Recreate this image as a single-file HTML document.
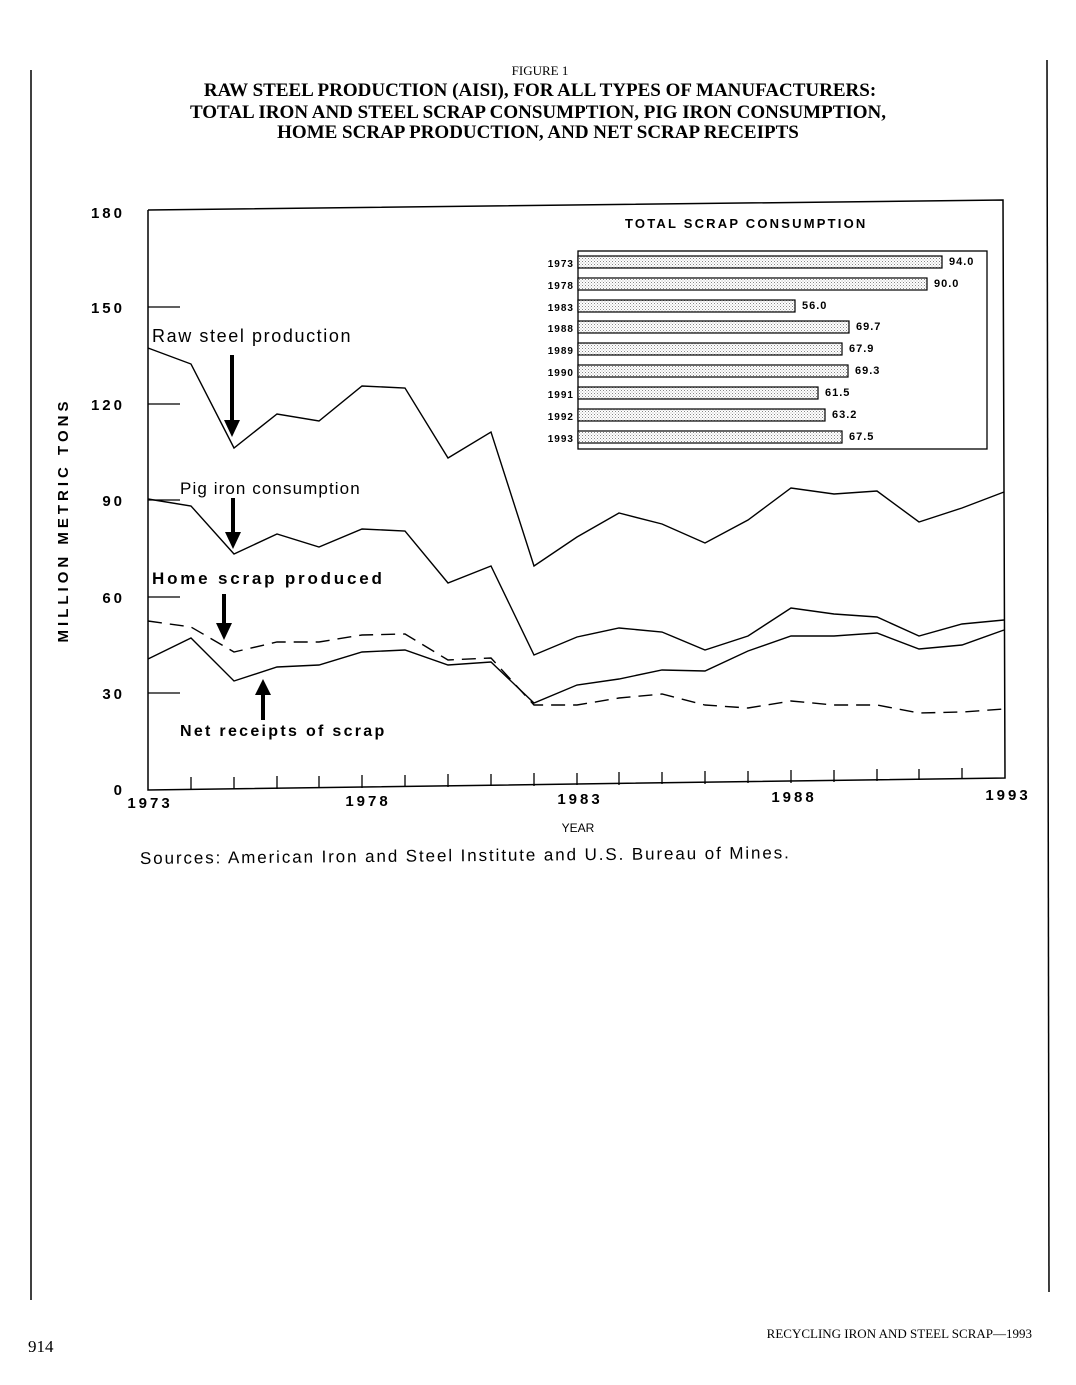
<!DOCTYPE html><html><head><style>body{margin:0;background:#fff}svg text{font-family:"Liberation Sans",sans-serif}</style></head><body>
<svg width="1076" height="1380" viewBox="0 0 1076 1380" xmlns="http://www.w3.org/2000/svg">
<defs><pattern id="p" width="3" height="3" patternUnits="userSpaceOnUse"><rect width="3" height="3" fill="#fff"/><rect width="1" height="1" fill="#888"/><rect x="1.5" y="1.5" width="1" height="1" fill="#aaa"/></pattern></defs>
<line x1="31" y1="70" x2="31" y2="1300" stroke="#000" stroke-width="1.5"/>
<line x1="1047" y1="60" x2="1049" y2="1292" stroke="#000" stroke-width="1.5"/>
<g text-anchor="middle" fill="#000">
<text x="540" y="75" font-size="13" style="font-family:'Liberation Serif'">FIGURE 1</text>
<text x="540" y="96" font-size="19" font-weight="bold" style="font-family:'Liberation Serif'">RAW STEEL PRODUCTION (AISI), FOR ALL TYPES OF MANUFACTURERS:</text>
<text x="538" y="118" font-size="19" font-weight="bold" style="font-family:'Liberation Serif'">TOTAL IRON AND STEEL SCRAP CONSUMPTION, PIG IRON CONSUMPTION,</text>
<text x="538" y="138" font-size="19" font-weight="bold" style="font-family:'Liberation Serif'">HOME SCRAP PRODUCTION, AND NET SCRAP RECEIPTS</text>
</g>
<polyline points="148,210 1003,200 1005,778 148,790 148,210" fill="none" stroke="#000" stroke-width="1.5"/>
<g stroke="#000" stroke-width="1.3">
<line x1="148" y1="307" x2="180" y2="307"/><line x1="148" y1="404" x2="180" y2="404"/><line x1="148" y1="500" x2="180" y2="500"/><line x1="148" y1="597" x2="180" y2="597"/><line x1="148" y1="693" x2="180" y2="693"/>
</g>
<g font-size="15" font-weight="bold" text-anchor="end" letter-spacing="3">
<text x="125" y="218">180</text><text x="125" y="313">150</text><text x="125" y="410">120</text><text x="125" y="506">90</text><text x="125" y="603">60</text><text x="125" y="699">30</text><text x="125" y="795">0</text></g>
<text transform="translate(68,520) rotate(-90)" font-size="15" font-weight="bold" text-anchor="middle" letter-spacing="4">MILLION METRIC TONS</text>
<g font-size="15" font-weight="bold" text-anchor="middle" letter-spacing="3">
<text x="150" y="808">1973</text><text x="368" y="806">1978</text><text x="580" y="804">1983</text><text x="794" y="802">1988</text><text x="1008" y="800">1993</text></g>
<text x="578" y="832" font-size="12" text-anchor="middle">YEAR</text>
<text x="140" y="864" font-size="17" letter-spacing="1.9" transform="rotate(-0.5 140 864)">Sources: American Iron and Steel Institute and U.S. Bureau of Mines.</text>
<g fill="none" stroke="#000" stroke-width="1.4">
<polyline points="148,348 191,364 234,448 277,414 319,421 362,386 405,388 448,458 491,432 534,566 577,537 619,513 662,524 705,543 748,520 791,488 834,494 877,491 919,522 962,508 1004,492"/>
<polyline points="148,499 191,506 234,554 277,534 319,547 362,529 405,531 448,583 491,566 534,655 577,637 619,628 662,632 705,650 748,636 791,608 834,614 877,617 919,636 962,624 1004,620"/>
<polyline points="148,621 191,627 234,652 277,642 319,642 362,635 405,634 448,660 491,658 534,705 577,705 619,698 662,694 705,705 748,708 791,701 834,705 877,705 919,713 962,712 1004,709" stroke-dasharray="14,8"/>
<polyline points="148,659 191,638 234,681 277,667 319,665 362,652 405,650 448,665 491,662 534,703 577,685 619,679 662,670 705,671 748,651 791,636 834,636 877,633 919,649 962,645 1004,630"/>
</g>
<g fill="#000">
<rect x="230" y="355" width="4" height="68"/><polygon points="224,420 240,420 232,437"/>
<rect x="231" y="498" width="4" height="36"/><polygon points="225,532 241,532 233,549"/>
<rect x="222" y="594" width="4" height="30"/><polygon points="216,623 232,623 224,640"/>
<rect x="261" y="693" width="4" height="27"/><polygon points="255,695 271,695 263,679"/>
</g>
<text x="152" y="342" font-size="18" letter-spacing="1.6">Raw steel production</text>
<text x="180" y="494" font-size="17" letter-spacing="1.1">Pig iron consumption</text>
<text x="152" y="584" font-size="17" font-weight="bold" letter-spacing="2.8">Home scrap produced</text>
<text x="180" y="736" font-size="16" font-weight="bold" letter-spacing="2.3">Net receipts of scrap</text>
<text x="625" y="228" font-size="13" font-weight="bold" letter-spacing="2.2">TOTAL SCRAP CONSUMPTION</text>
<rect x="578" y="251" width="409" height="198" fill="none" stroke="#000" stroke-width="1.3"/>
<g stroke="#000" stroke-width="1.2" fill="url(#p)">
<rect x="578" y="256" width="364" height="12"/><rect x="578" y="278" width="349" height="12"/><rect x="578" y="300" width="217" height="12"/><rect x="578" y="321" width="271" height="12"/><rect x="578" y="343" width="264" height="12"/><rect x="578" y="365" width="270" height="12"/><rect x="578" y="387" width="240" height="12"/><rect x="578" y="409" width="247" height="12"/><rect x="578" y="431" width="264" height="12"/></g>
<g font-size="10" font-weight="bold" text-anchor="end" letter-spacing="1"><text x="574" y="267">1973</text><text x="574" y="289">1978</text><text x="574" y="311">1983</text><text x="574" y="332">1988</text><text x="574" y="354">1989</text><text x="574" y="376">1990</text><text x="574" y="398">1991</text><text x="574" y="420">1992</text><text x="574" y="442">1993</text></g>
<g font-size="11" font-weight="bold" letter-spacing="1"><text x="949" y="265">94.0</text><text x="934" y="287">90.0</text><text x="802" y="309">56.0</text><text x="856" y="330">69.7</text><text x="849" y="352">67.9</text><text x="855" y="374">69.3</text><text x="825" y="396">61.5</text><text x="832" y="418">63.2</text><text x="849" y="440">67.5</text></g>
<g stroke="#000" stroke-width="1.3">
<line x1="191" y1="777" x2="191" y2="790"/><line x1="234" y1="777" x2="234" y2="789"/><line x1="277" y1="776" x2="277" y2="789"/><line x1="319" y1="776" x2="319" y2="788"/><line x1="362" y1="775" x2="362" y2="788"/><line x1="405" y1="775" x2="405" y2="787"/><line x1="448" y1="774" x2="448" y2="787"/><line x1="491" y1="774" x2="491" y2="786"/><line x1="534" y1="773" x2="534" y2="786"/><line x1="577" y1="773" x2="577" y2="785"/><line x1="619" y1="772" x2="619" y2="785"/><line x1="662" y1="772" x2="662" y2="784"/><line x1="705" y1="771" x2="705" y2="784"/><line x1="748" y1="771" x2="748" y2="783"/><line x1="791" y1="770" x2="791" y2="783"/><line x1="834" y1="770" x2="834" y2="782"/><line x1="877" y1="769" x2="877" y2="781"/><line x1="919" y1="769" x2="919" y2="780"/><line x1="962" y1="768" x2="962" y2="779"/></g>
<text x="28" y="1352" font-size="17" style="font-family:'Liberation Serif'">914</text>
<text x="1032" y="1338" font-size="13" text-anchor="end" style="font-family:'Liberation Serif'">RECYCLING IRON AND STEEL SCRAP—1993</text>
</svg></body></html>
